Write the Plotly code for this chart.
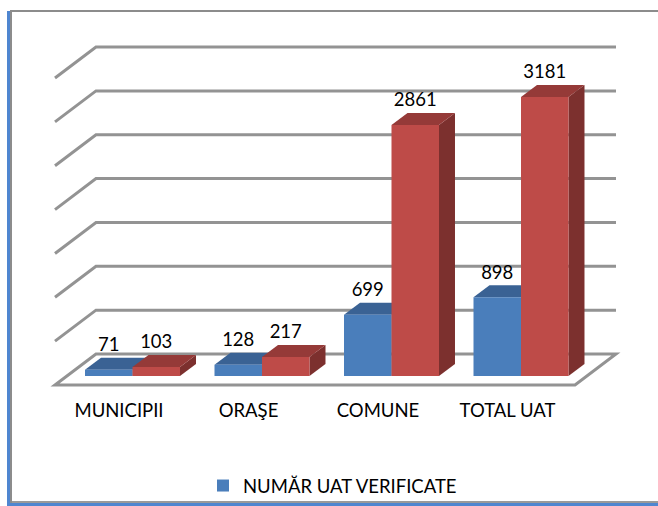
import plotly.graph_objects as go

categories = ["MUNICIPII", "ORAŞE", "COMUNE", "TOTAL UAT"]
verified = [71, 128, 699, 898]
total = [103, 217, 2861, 3181]
grid_values = [0, 500, 1000, 1500, 2000, 2500, 3000, 3500]

W, H = 658, 506
CAT_PX, VAL_PX = 129.5, 0.0877          # pixels per category / per value unit
X0_PX, Y0_PX = 132.5, 376               # pixel of category 0 / value 0
dx = lambda px: px / CAT_PX
dy = lambda px: px / VAL_PX

BAR_W = 47.5 / CAT_PX
BLUE, BLUE_TOP, BLUE_SIDE = "#4a7ebb", "#3a6294", "#355a88"
RED, RED_TOP, RED_SIDE = "#be4b48", "#953a38", "#7c302e"
GRID = "#939393"
FS = 18.5


def poly(pts, fill, line=None, width=0, layer="below"):
    path = "M " + " L ".join(f"{x:.4f},{y:.2f}" for x, y in pts) + " Z"
    return dict(type="path", path=path, xref="x", yref="y", fillcolor=fill, layer=layer,
                line=dict(color=line or fill, width=width))


def segs(pts, color=GRID, width=3):
    path = "M " + " L ".join(f"{x:.4f},{y:.2f}" for x, y in pts)
    return dict(type="path", path=path, xref="x", yref="y", layer="below",
                line=dict(color=color, width=width))


shapes = []
# floor and back-wall gridlines
fl, fr = dx(55 - X0_PX), dx(575 - X0_PX)
front, back = dy(-9), dy(22)
depth_x = dx(41)
for v in grid_values[1:]:
    shapes.append(segs([(fl, v + front), (fl + depth_x, v + back), (fr + depth_x, v + back)]))
shapes.append(poly([(fl, front), (fl + depth_x, back), (fr + depth_x, back), (fr, front)],
                   "#ffffff", GRID, 3))

# depth faces of the bars (the fronts are real bars drawn on top)
bdx, bdy = dx(16), dy(12)
for i in range(len(categories)):
    for vals, off, top, side in ((verified, -BAR_W, BLUE_TOP, BLUE_SIDE), (total, 0, RED_TOP, RED_SIDE)):
        v, l = vals[i], i + off
        r = l + BAR_W
        shapes.append(poly([(r, 0), (r, v), (r + bdx, v + bdy), (r + bdx, bdy)], side))
        shapes.append(poly([(l, v), (r, v), (r + bdx, v + bdy), (l + bdx, v + bdy)], top))

# picture frame
for x0, y0, x1, y1, c in ((7, 11, 11, H, "#4f86d0"), (10, 10, 12, 503, "#8c8c8c"),
                          (10, 10, W, 12, "#8c8c8c"), (12, 501, W, 503, "#9a9a9a"),
                          (7, 503, W, H, "#4f86d0")):
    shapes.append(dict(type="rect", xref="paper", yref="paper", x0=x0 / W, x1=x1 / W,
                       y0=1 - y1 / H, y1=1 - y0 / H, fillcolor=c, line=dict(width=0), layer="below"))

xs = list(range(len(categories)))
fig = go.Figure()
fig.add_bar(x=xs, y=verified, marker=dict(color=BLUE, line=dict(width=0)), name="NUMĂR UAT VERIFICATE")
fig.add_bar(x=xs, y=total, marker=dict(color=RED, line=dict(width=0)), name="TOTAL UAT", showlegend=False)

label_lift = dy(14)
for vals, off in ((verified, -BAR_W / 2), (total, BAR_W / 2)):
    fig.add_scatter(x=[i + off for i in xs], y=[v + label_lift for v in vals], mode="text",
                    text=[str(v) for v in vals], textposition="top center",
                    textfont=dict(family="Lato", size=FS, color="#000000"),
                    showlegend=False, hoverinfo="skip")

fig.update_layout(
    width=W, height=H, autosize=False, margin=dict(l=0, r=0, t=0, b=0, autoexpand=False),
    paper_bgcolor="#ffffff", plot_bgcolor="#ffffff",
    barmode="group", bargap=1 - 2 * BAR_W, bargroupgap=0, shapes=shapes,
    font=dict(family="Lato", size=FS, color="#000000"),
    legend=dict(x=203 / W, y=1 - 467 / H, xanchor="left", yanchor="top",
                bgcolor="rgba(0,0,0,0)", font=dict(family="Lato", size=FS)),
    xaxis=dict(range=[-X0_PX / CAT_PX, (W - X0_PX) / CAT_PX], anchor="free",
               position=(H - 385) / H, showgrid=False, zeroline=False, showline=False,
               tickmode="array", tickvals=[i - dx(13.5) for i in xs], ticktext=categories,
               ticks="outside", ticklen=9, tickcolor="rgba(0,0,0,0)", tickfont=dict(size=FS)),
    yaxis=dict(range=[dy(Y0_PX - H), dy(Y0_PX)], visible=False, showgrid=False, zeroline=False),
)
fig.write_html("out.html", config={"displayModeBar": False},
               post_script="document.body.style.margin='0';document.documentElement.style.overflow='hidden';")
